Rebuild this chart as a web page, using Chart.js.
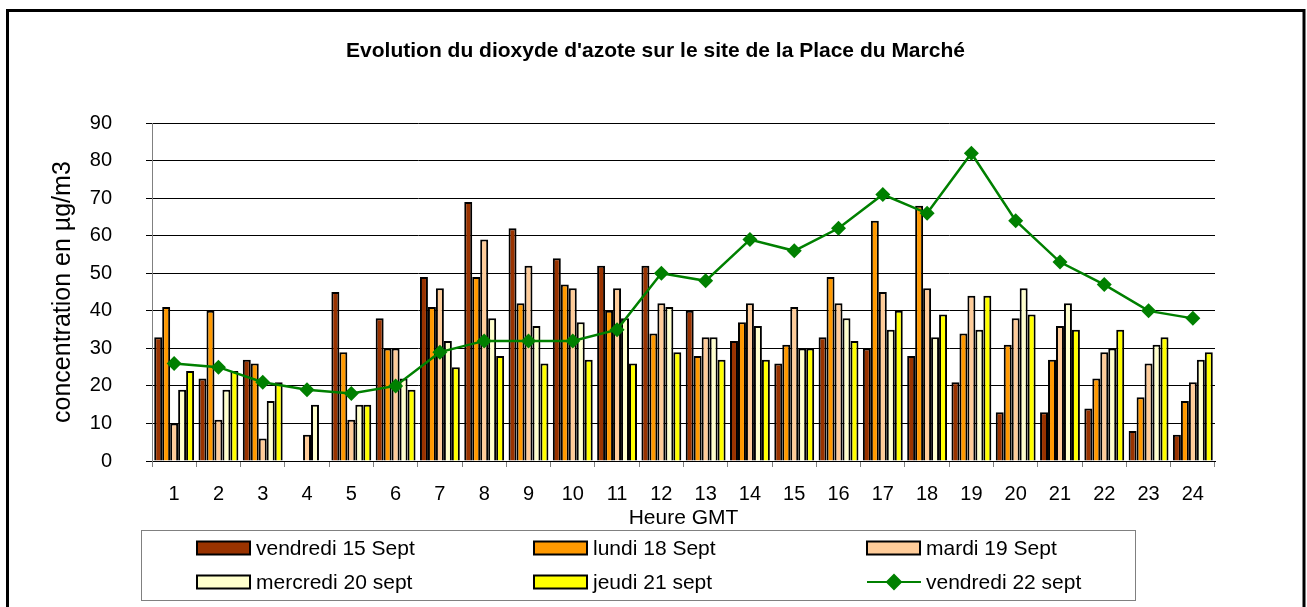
<!DOCTYPE html>
<html>
<head>
<meta charset="utf-8">
<script src="https://cdn.jsdelivr.net/npm/chart.js@4.4.1/dist/chart.umd.min.js"></script>
<style>
  body { margin: 0; background: #fff; }
  #wrap { width: 1307px; height: 607px; position: relative; }
</style>
</head>
<body>
<div id="wrap"><canvas id="myChart"></canvas></div>
<script>
// hours on x axis
const heures = ['1', '2', '3', '4', '5', '6', '7', '8', '9', '10', '11', '12',
  '13', '14', '15', '16', '17', '18', '19', '20', '21', '22', '23', '24'];

// NO2 concentration per day (µg/m3), null = no measure
const vendredi15 = [33, 22, 27, null, 45, 38, 49, 69, 62, 54, 52, 52, 40, 32, 26, 33, 30, 28, 21, 13, 13, 14, 8, 7];
const lundi18 = [41, 40, 26, null, 29, 30, 41, 49, 42, 47, 40, 34, 28, 37, 31, 49, 64, 68, 34, 31, 27, 22, 17, 16];
const mardi19 = [10, 11, 6, 7, 11, 30, 46, 59, 52, 46, 46, 42, 33, 42, 41, 42, 45, 46, 44, 38, 36, 29, 26, 21];
const mercredi20 = [19, 19, 16, 15, 15, 22, 32, 38, 36, 37, 38, 41, 33, 36, 30, 38, 35, 33, 35, 46, 42, 30, 31, 27];
const jeudi21 = [24, 24, 21, null, 15, 19, 25, 28, 26, 27, 26, 29, 27, 27, 30, 32, 40, 39, 44, 39, 35, 35, 33, 29];
const vendredi22 = [26, 25, 21, 19, 18, 20, 29, 32, 32, 32, 35, 50, 48, 59, 56, 62, 71, 66, 82, 64, 53, 47, 40, 38];

// global font options
Chart.defaults.font.family = '"Liberation Sans", Arial, sans-serif';
Chart.defaults.color = '#000';

const barDataset = (label, data, color) => ({
  type: 'bar',
  label: label,
  data: data,
  backgroundColor: color,
  borderColor: '#000',
  borderWidth: 2,
  barPercentage: 1,
  categoryPercentage: 0.9,
  order: 1,
});

// black frame round the whole picture
const framePlugin = {
  id: 'frame',
  afterDraw(chart) {
    const ctx = chart.ctx;
    ctx.save();
    ctx.strokeStyle = '#000';
    ctx.lineWidth = 3;
    ctx.strokeRect(7.5, 10.5, 1296.5, 640);
    ctx.restore();
  },
};

// legend in a box, 3 columns x 2 rows
const boxLegend = {
  id: 'boxLegend',
  afterDraw(chart) {
    const ctx = chart.ctx;
    const cols = [197, 534, 867];
    const rows = [548, 582];
    ctx.save();
    ctx.strokeStyle = '#808080';
    ctx.lineWidth = 1;
    ctx.strokeRect(141.5, 530.5, 994, 70);
    ctx.font = '21px "Liberation Sans", Arial, sans-serif';
    ctx.textBaseline = 'middle';
    ctx.textAlign = 'left';
    chart.data.datasets.forEach((ds, i) => {
      const x = cols[i % 3];
      const y = rows[Math.floor(i / 3)];
      if (ds.type === 'line') {
        ctx.strokeStyle = ds.borderColor;
        ctx.lineWidth = 2;
        ctx.beginPath();
        ctx.moveTo(x, y);
        ctx.lineTo(x + 54, y);
        ctx.stroke();
        Chart.helpers.drawPoint(ctx, { pointStyle: 'rectRot', radius: 7, borderWidth: 1 }, x + 27, y);
        ctx.fillStyle = ds.backgroundColor;
        ctx.fill();
      } else {
        ctx.fillStyle = ds.backgroundColor;
        ctx.fillRect(x, y - 6.5, 53, 13);
        ctx.strokeStyle = '#000';
        ctx.lineWidth = 2;
        ctx.strokeRect(x, y - 6.5, 53, 13);
      }
      ctx.fillStyle = '#000';
      ctx.fillText(ds.label, x + 59, y + 1);
    });
    ctx.restore();
  },
};

const ctx = document.getElementById('myChart');
const chart = new Chart(ctx, {
  data: {
    labels: heures,
    datasets: [
      barDataset('vendredi 15 Sept', vendredi15, '#993300'),
      barDataset('lundi 18 Sept', lundi18, '#FF9900'),
      barDataset('mardi 19 Sept', mardi19, '#FFCC99'),
      barDataset('mercredi 20 sept', mercredi20, '#FFFFCC'),
      barDataset('jeudi 21 sept', jeudi21, '#FFFF00'),
      {
        type: 'line',
        label: 'vendredi 22 sept',
        data: vendredi22,
        borderColor: '#008000',
        backgroundColor: '#008000',
        borderWidth: 2.5,
        pointStyle: 'rectRot',
        pointRadius: 7.5,
        pointBorderWidth: 0,
        tension: 0,
        order: 0,
      },
    ],
  },
  options: {
    responsive: true,
    maintainAspectRatio: false,
    animation: false,
    layout: {
      padding: { left: 7, right: 3, top: 0, bottom: 76 },
    },
    plugins: {
      legend: { display: false },
      tooltip: { enabled: false },
      title: {
        display: true,
        text: "Evolution du dioxyde d'azote sur le site de la Place du Marché",
        font: { size: 21, weight: 'bold' },
        padding: { top: 39, bottom: 59 },
      },
    },
    scales: {
      x: {
        offset: true,
        grid: {
          display: true,
          offset: true,
          drawOnChartArea: false,
          drawTicks: true,
          tickLength: 6,
          color: '#808080',
        },
        border: { color: '#000' },
        ticks: { font: { size: 20 }, padding: 15, maxRotation: 0, autoSkip: false },
        title: {
          display: true,
          text: 'Heure GMT',
          font: { size: 21 },
          padding: { top: 0, bottom: 0 },
        },
        afterFit: (scale) => { scale.height = 70; },
      },
      y: {
        min: 0,
        max: 90,
        ticks: { stepSize: 10, font: { size: 20 }, padding: 34 },
        grid: { color: '#000', tickLength: 6, drawTicks: true },
        border: { color: '#808080' },
        title: {
          display: true,
          text: 'concentration en µg/m3',
          font: { size: 25 },
          padding: { top: 41, bottom: 0 },
        },
        afterFit: (scale) => { scale.width = 145; },
      },
      // empty space on the right of the plot
      yRight: {
        type: 'linear',
        position: 'right',
        grid: { display: false },
        border: { display: false },
        ticks: { display: false },
        afterFit: (scale) => { scale.width = 89; },
      },
    },
  },
  plugins: [framePlugin, boxLegend],
});
</script>
</body>
</html>
